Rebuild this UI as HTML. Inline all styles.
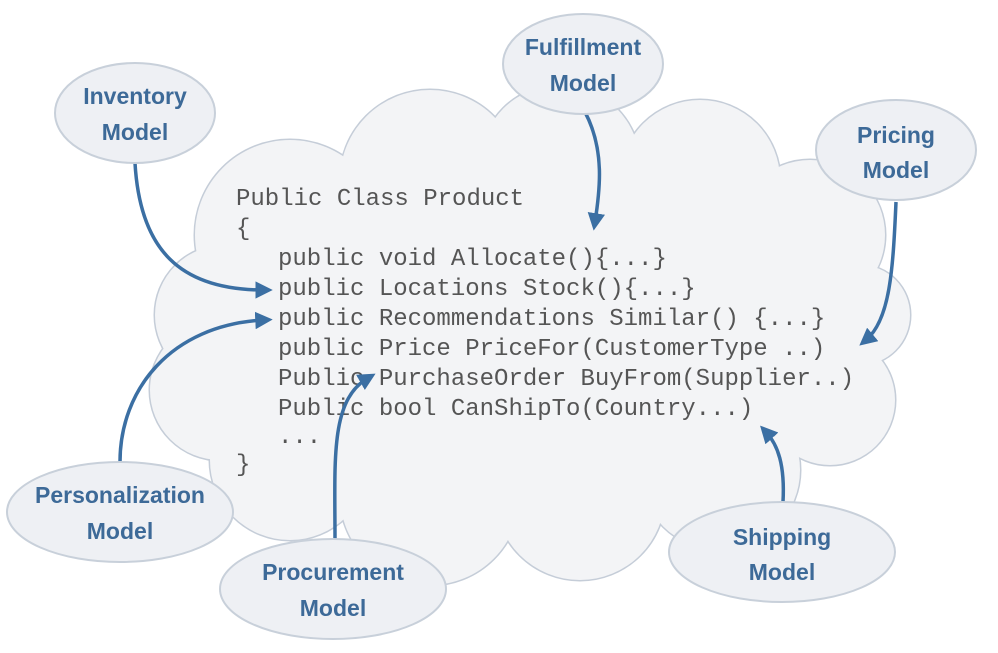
<!DOCTYPE html>
<html><head><meta charset="utf-8"><style>
html,body{margin:0;padding:0;background:#fff;width:998px;height:653px;overflow:hidden}
svg{display:block}
.code{font-family:"Liberation Mono",monospace;font-size:24px;fill:#555}
.lbl{font-family:"Liberation Sans",sans-serif;font-size:23px;font-weight:bold;fill:#3d6a98;text-anchor:middle}
</style></head><body>
<svg width="998" height="653" viewBox="0 0 998 653" xmlns="http://www.w3.org/2000/svg">
<defs>
<marker id="ah" markerWidth="5" markerHeight="5" refX="2.5" refY="2.5" orient="auto" markerUnits="strokeWidth">
<path d="M0,0 L5,2.5 L0,5 Z" fill="#3b6fa3"/></marker>
</defs>
<g stroke="#c5cdd8" stroke-width="3" fill="#c5cdd8">
<circle cx="290" cy="235" r="95"/><circle cx="430" cy="180" r="90"/><circle cx="560" cy="165" r="80"/>
<circle cx="700" cy="180" r="80"/><circle cx="810" cy="235" r="75"/><circle cx="860" cy="315" r="50"/>
<circle cx="830" cy="400" r="65"/><circle cx="720" cy="470" r="80"/><circle cx="580" cy="495" r="85"/>
<circle cx="430" cy="495" r="90"/><circle cx="290" cy="460" r="80"/><circle cx="220" cy="390" r="70"/>
<circle cx="225" cy="315" r="70"/>
</g>
<g fill="#f3f4f6">
<circle cx="290" cy="235" r="95"/><circle cx="430" cy="180" r="90"/><circle cx="560" cy="165" r="80"/>
<circle cx="700" cy="180" r="80"/><circle cx="810" cy="235" r="75"/><circle cx="860" cy="315" r="50"/>
<circle cx="830" cy="400" r="65"/><circle cx="720" cy="470" r="80"/><circle cx="580" cy="495" r="85"/>
<circle cx="430" cy="495" r="90"/><circle cx="290" cy="460" r="80"/><circle cx="220" cy="390" r="70"/>
<circle cx="225" cy="315" r="70"/>
<ellipse cx="530" cy="330" rx="330" ry="190"/>
</g>
<g class="code">
<text x="236" y="205">Public Class Product</text>
<text x="236" y="235">{</text>
<text x="278" y="265">public void Allocate(){...}</text>
<text x="278" y="295">public Locations Stock(){...}</text>
<text x="278" y="325">public Recommendations Similar() {...}</text>
<text x="278" y="355">public Price PriceFor(CustomerType ..)</text>
<text x="278" y="385">Public PurchaseOrder BuyFrom(Supplier..)</text>
<text x="278" y="415">Public bool CanShipTo(Country...)</text>
<text x="278" y="443">...</text>
<text x="236" y="471">}</text>
</g>
<g fill="none" stroke="#3b6fa3" stroke-width="3.5" marker-end="url(#ah)">
<path d="M135,163 C140,250 180,290 264,290"/>
<path d="M585,112 C605,150 600,190 595,222"/>
<path d="M896,202 C893,270 890,320 866,340"/>
<path d="M120,462 C120,390 170,325 264,320"/>
<path d="M335,540 C335,460 330,400 368,378"/>
<path d="M783,502 C785,465 778,445 766,432"/>
</g>
<g fill="#eef0f4" stroke="#c8d0da" stroke-width="2">
<ellipse cx="135" cy="113" rx="80" ry="50"/>
<ellipse cx="583" cy="64" rx="80" ry="50"/>
<ellipse cx="896" cy="150" rx="80" ry="50"/>
<ellipse cx="120" cy="512" rx="113" ry="50"/>
<ellipse cx="333" cy="589" rx="113" ry="50"/>
<ellipse cx="782" cy="552" rx="113" ry="50"/>
</g>
<g class="lbl">
<text x="135" y="104">Inventory</text><text x="135" y="140">Model</text>
<text x="583" y="55">Fulfillment</text><text x="583" y="91">Model</text>
<text x="896" y="143">Pricing</text><text x="896" y="178">Model</text>
<text x="120" y="503">Personalization</text><text x="120" y="539">Model</text>
<text x="333" y="580">Procurement</text><text x="333" y="616">Model</text>
<text x="782" y="545">Shipping</text><text x="782" y="580">Model</text>
</g>
</svg>
</body></html>
